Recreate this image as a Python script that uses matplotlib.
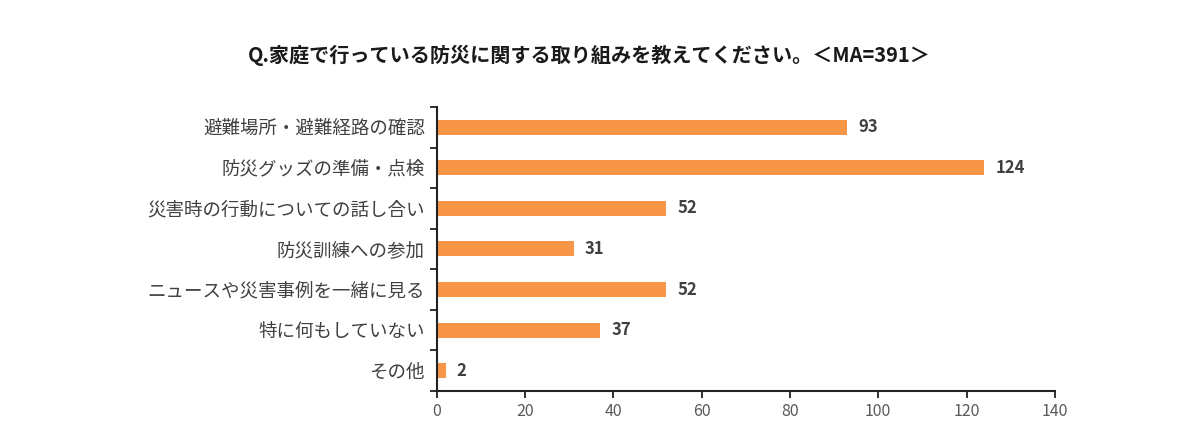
import matplotlib
matplotlib.use("Agg")
import matplotlib.pyplot as plt
import numpy as np

plt.rcParams['font.family'] = ['Noto Sans CJK JP', 'DejaVu Sans']

categories = ["避難場所・避難経路の確認", "防災グッズの準備・点検", "災害時の行動についての話し合い",
              "防災訓練への参加", "ニュースや災害事例を一緒に見る", "特に何もしていない", "その他"]
values = [93, 124, 52, 31, 52, 37, 2]
title = "Q.家庭で行っている防災に関する取り組みを教えてください。＜MA=391＞"

fig = plt.figure(figsize=(12, 4.33), dpi=100)
ax = fig.add_axes([0.364, 0.097, 0.515, 0.656])

y = np.arange(len(categories))
ax.barh(y, values, height=0.37, color="#F79646")
ax.set_ylim(len(categories) - 0.5, -0.5)
ax.set_xlim(0, 140)
ax.set_xticks(np.arange(0, 141, 20))

ax.set_yticks(y)
ax.set_yticklabels(categories, fontsize=13.3, color="#404040")
ax.set_yticks(np.arange(-0.5, len(categories), 1), minor=True)
ax.tick_params(axis='y', which='major', length=0, pad=8.5)
ax.tick_params(axis='y', which='minor', length=5, width=1.3, color="#222222", direction='out')
ax.tick_params(axis='x', length=5, width=1.3, color="#222222", labelsize=11.5, labelcolor="#595959")

for s in ['top', 'right']:
    ax.spines[s].set_visible(False)
for s in ['left', 'bottom']:
    ax.spines[s].set_linewidth(1.5)
    ax.spines[s].set_color("#222222")

for yi, v in zip(y, values):
    ax.text(v + 2.5, yi, str(v), va='center', ha='left', fontsize=12, fontweight='bold', color="#404040")

fig.text(0.491, 0.873, title, ha='center', va='center', fontsize=14.5, fontweight='bold', color="#1a1a1a")

fig.savefig("out.png", dpi=100)
